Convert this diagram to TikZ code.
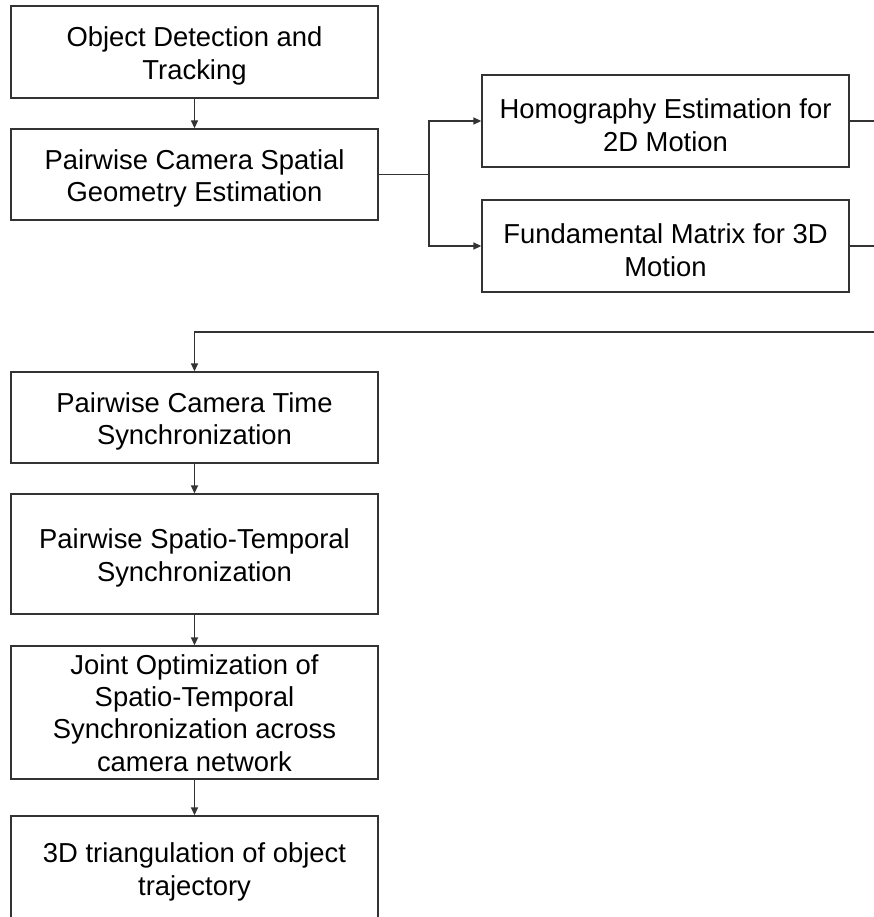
\documentclass[tikz,border=0pt]{standalone}
\usepackage{fontspec}
\setmainfont{Liberation Sans}
\usetikzlibrary{arrows.meta}
\begin{document}
\begin{tikzpicture}[x=1pt,y=-1pt,
  box/.style={draw=black!80,line width=1.3pt,fill=white,minimum width=367pt,inner sep=0pt},
  txt/.style={inner sep=0pt,align=center,yshift=-4pt,font=\fontsize{27.4}{32.5}\selectfont},
  conn/.style={draw=black!80,line width=1.3pt},
  arr/.style={conn,-{Triangle[length=8pt,width=7pt]}}]
\useasboundingbox (0,0) rectangle (873,917);
\node[box,minimum height=92pt,label={[txt]center:Object Detection and\\Tracking}] (b1) at (194.5,52) {};
\node[box,minimum height=91pt,label={[txt]center:Pairwise Camera Spatial\\Geometry Estimation}] (b2) at (194.5,174.5) {};
\node[box,minimum height=92pt,label={[txt]center:Homography Estimation for\\2D Motion}] (b3) at (665.5,121) {};
\node[box,minimum height=92pt,label={[txt]center:Fundamental Matrix for 3D\\Motion}] (b4) at (665.5,246) {};
\node[box,minimum height=91pt,label={[txt]center:Pairwise Camera Time\\Synchronization}] (b5) at (194.5,417.5) {};
\node[box,minimum height=120pt,label={[txt]center:Pairwise Spatio-Temporal\\Synchronization}] (b6) at (194.5,554) {};
\node[box,minimum height=133pt,label={[txt,yshift=3.5pt,font=\fontsize{27.4}{32.3}\selectfont]center:Joint Optimization of\\Spatio-Temporal\\Synchronization across\\camera network}] (b7) at (194.5,712.5) {};
\node[box,minimum height=106pt,label={[txt,yshift=1pt]center:3D triangulation of object\\trajectory}] (b8) at (194.5,869) {};
\coordinate (split) at (429,174.5);
\coordinate (r3) at (880,121);
\coordinate (r4) at (880,246);
\coordinate (ret) at (880,332);
\coordinate (retc) at (b5.north |- ret);
\draw[arr] (b1) -- (b2);
\draw[conn] (b2.east) -- (split);
\draw[arr] (split) |- (b3.west);
\draw[arr] (split) |- (b4.west);
\draw[conn] (b3.east) -- (r3);
\draw[conn] (b4.east) -- (r4);
\draw[arr] (ret) -- (retc) -- (b5.north);
\draw[arr] (b5) -- (b6);
\draw[arr] (b6) -- (b7);
\draw[arr] (b7) -- (b8);
\end{tikzpicture}
\end{document}
